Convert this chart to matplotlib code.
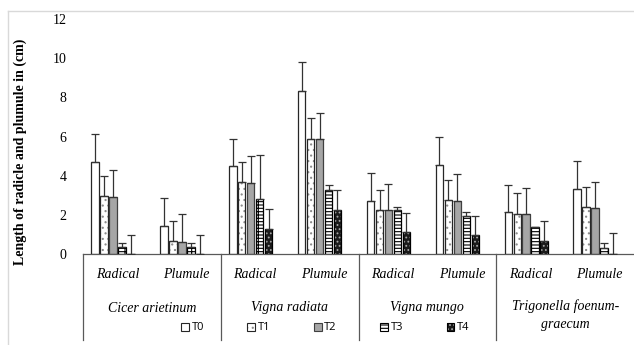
import matplotlib
matplotlib.use("Agg")
import matplotlib.pyplot as plt
import numpy as np
from matplotlib.patches import Patch
from matplotlib.lines import Line2D

species = ["Cicer arietinum", "Vigna radiata", "Vigna mungo", "Trigonella foenum-\ngraecum"]
parts = ["Radical", "Plumule"]
treatments = ["T0", "T1", "T2", "T3", "T4"]

# values per category (species x part, in order) for each treatment
T0 = [4.68, 1.41, 4.48, 8.31, 2.71, 4.53, 2.13, 3.34]
T1 = [2.96, 0.65, 3.66, 5.89, 2.26, 2.76, 2.06, 2.38]
T2 = [2.93, 0.61, 3.63, 5.89, 2.23, 2.71, 2.03, 2.33]
T3 = [0.34, 0.34, 2.79, 3.25, 2.23, 1.92, 1.38, 0.32]
T4 = [0.00, 0.00, 1.28, 2.26, 1.11, 0.95, 0.66, 0.00]
# upper error extent
E0 = [1.45, 1.43, 1.41, 1.48, 1.44, 1.43, 1.41, 1.43]
E1 = [1.04, 1.05, 1.02, 1.04, 1.03, 1.02, 1.04, 1.02]
E2 = [1.34, 1.42, 1.36, 1.29, 1.36, 1.36, 1.36, 1.36]
E3 = [0.24, 0.24, 2.25, 0.26, 0.19, 0.21, 0.00, 0.26]
E4 = [0.99, 0.99, 1.03, 0.99, 1.00, 1.01, 1.04, 1.06]

values = [T0, T1, T2, T3, T4]
errors = [E0, E1, E2, E3, E4]

plt.rcParams['hatch.linewidth'] = 0.8
serif = "Liberation Serif"

fig = plt.figure(figsize=(6.34, 3.45), dpi=100)
W, H = 634, 345
ax = fig.add_axes([83 / W, (H - 254) / H, 551 / W, 235 / H])

ncat = len(T0)
x = np.arange(ncat)
step = 0.13
width = 0.108

styles = [
    dict(face="white", hatch=None, hcol=None, edge="#262626"),
    dict(face="white", hatch="...", hcol="#8c8c8c", edge="#262626"),
    dict(face="#a6a6a6", hatch=None, hcol=None, edge="#404040"),
    dict(face="white", hatch="-----|", hcol="#000000", edge="#000000"),
    dict(face="#1a1a1a", hatch="....", hcol="#a6a6a6", edge="#000000"),
]

handles = []
for j, (vals, errs, st) in enumerate(zip(values, errors, styles)):
    xs = x + (j - 2.5) * step
    if st["hatch"]:
        ax.bar(xs, vals, width, color=st["face"], edgecolor=st["hcol"],
               hatch=st["hatch"], linewidth=0, zorder=2)
    else:
        ax.bar(xs, vals, width, color=st["face"], linewidth=0, zorder=2)
    ax.bar(xs, vals, width, fill=False, edgecolor=st["edge"], linewidth=0.9, zorder=3)
    ax.errorbar(xs, vals, yerr=[np.zeros(ncat), errs], fmt="none",
                ecolor="#333333", elinewidth=0.9, capsize=3, capthick=0.9, zorder=4)
    border = Patch(fill=False, edgecolor=st["edge"], linewidth=0.8)
    if st["hatch"]:
        inner = Patch(facecolor=st["face"], edgecolor=st["hcol"], hatch=st["hatch"], linewidth=0)
    else:
        inner = Patch(facecolor=st["face"], linewidth=0)
    handles.append((inner, border))

ax.set_xlim(-0.5, ncat - 0.5)
ax.set_ylim(0, 12)
ax.set_yticks(np.arange(0, 13, 2))
ax.set_yticklabels([str(v) for v in range(0, 13, 2)], fontfamily=serif, fontsize=10)
ax.tick_params(axis="y", length=0, pad=12)
ax.set_xticks([])
for s in ["top", "right", "left"]:
    ax.spines[s].set_visible(False)
ax.spines["bottom"].set_color("#595959")
ax.spines["bottom"].set_linewidth(0.9)

ax.set_ylabel("Length of radicle and plumule in (cm)", fontfamily=serif,
              fontweight="bold", fontsize=10)
ax.yaxis.set_label_coords(-(83 - 27) / 551, (254 - 152) / 235)

trans = ax.get_xaxis_transform()
px = 1 / 235.0
# group dividers
for b in [-0.5, 1.5, 3.5, 5.5]:
    ax.plot([b, b], [0, -86 * px], transform=trans, color="#595959", lw=0.9, clip_on=False)
# category labels
for i in range(ncat):
    ax.text(x[i], -21 * px, parts[i % 2], transform=trans, ha="center", va="center",
            fontfamily=serif, fontstyle="italic", fontsize=10)
for k, sp in enumerate(species):
    cx = 2 * k + 0.5
    if "\n" in sp:
        ax.text(cx, -61 * px, sp, transform=trans, ha="center", va="center",
                fontfamily=serif, fontstyle="italic", fontsize=10, linespacing=1.45)
    else:
        ax.text(cx, -54 * px, sp, transform=trans, ha="center", va="center",
                fontfamily=serif, fontstyle="italic", fontsize=10)

leg = fig.legend(handles, treatments, ncol=5, loc="center left",
                 bbox_to_anchor=(181 / W, 1 - 328 / H), frameon=False,
                 prop={"family": "Open Sans", "size": 8},
                 handlelength=0.7, handleheight=0.7, handletextpad=0.25,
                 columnspacing=3.9, borderpad=0, borderaxespad=0)

# chart frame lines
fig.add_artist(Line2D([8 / W, 1], [1 - 11 / H, 1 - 11 / H], transform=fig.transFigure,
                      color="#d9d9d9", lw=1))
fig.add_artist(Line2D([8 / W, 8 / W], [0, 1 - 11 / H], transform=fig.transFigure,
                      color="#d9d9d9", lw=1))

fig.savefig("out.png", dpi=100)
